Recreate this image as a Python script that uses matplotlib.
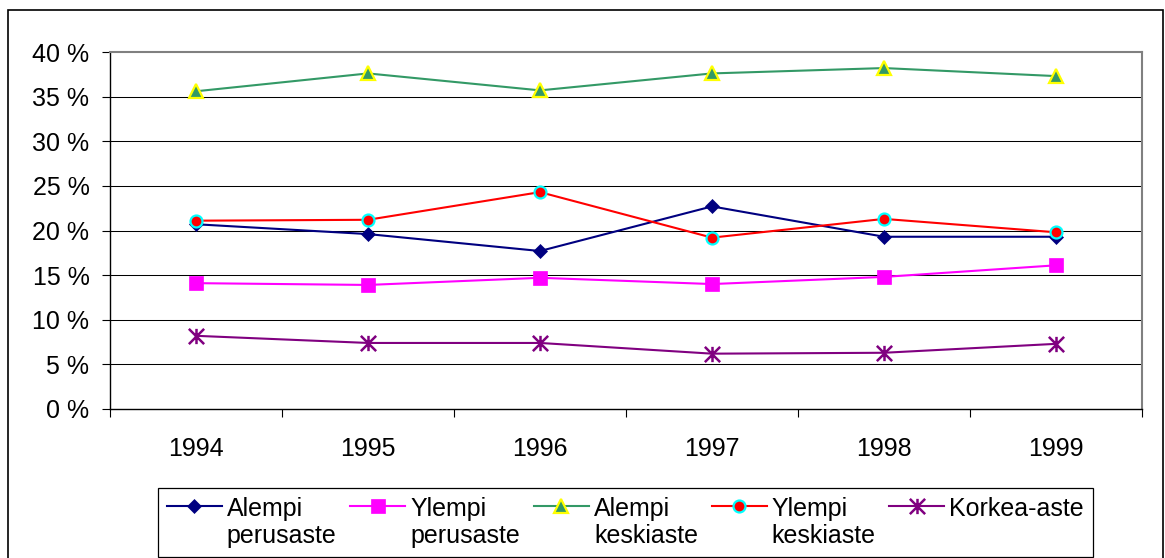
import matplotlib
matplotlib.use("Agg")
import matplotlib.pyplot as plt
from matplotlib.path import Path
from matplotlib.patches import Rectangle

# Share of each education level, percent
years = ["1994", "1995", "1996", "1997", "1998", "1999"]
alempi_perusaste = [20.7, 19.6, 17.7, 22.7, 19.3, 19.3]
ylempi_perusaste = [14.1, 13.9, 14.7, 14.0, 14.8, 16.1]
alempi_keskiaste = [35.6, 37.6, 35.7, 37.6, 38.2, 37.3]
ylempi_keskiaste = [21.1, 21.2, 24.3, 19.2, 21.3, 19.8]
korkea_aste = [8.2, 7.4, 7.4, 6.2, 6.3, 7.3]

series_labels = ["Alempi\nperusaste", "Ylempi\nperusaste", "Alempi\nkeskiaste",
                 "Ylempi\nkeskiaste", "Korkea-aste"]
y_ticks = [0, 5, 10, 15, 20, 25, 30, 35, 40]

plt.rcParams["font.family"] = ["Liberation Sans", "DejaVu Sans"]
FS = 18

W, H = 1165, 558
fig = plt.figure(figsize=(W / 100, H / 100), dpi=100)
fig.patch.set_facecolor("white")

ax = fig.add_axes([110 / W, 1 - 409 / H, (1142 - 110) / W, (409 - 52) / H])

# Asterisk-like star: an X with a vertical stroke
star = Path([(-1, -1), (1, 1), (-1, 1), (1, -1), (0, -1), (0, 1)],
            [Path.MOVETO, Path.LINETO] * 3)

x = list(range(len(years)))
lw = 1.5
h1, = ax.plot(x, alempi_perusaste, color="#000080", lw=lw, marker="D",
              ms=7.6, mfc="#000080", mec="#000080", mew=0.5, zorder=3)
h2, = ax.plot(x, ylempi_perusaste, color="#FF00FF", lw=lw, marker="s",
              ms=10.2, mfc="#FF00FF", mec="#FF00FF", mew=0.5, zorder=3)
h3, = ax.plot(x, alempi_keskiaste, color="#339966", lw=lw, marker="^",
              ms=9.5, mfc="#339966", mec="#FFFF00", mew=1.6, zorder=3)
h4, = ax.plot(x, ylempi_keskiaste, color="#FF0000", lw=lw, marker="o",
              ms=8.6, mfc="#FF0000", mec="#00FFFF", mew=1.6, zorder=3)
h5, = ax.plot(x, korkea_aste, color="#800080", lw=lw, marker=star,
              ms=11, mfc="none", mec="#800080", mew=1.8, zorder=3)

ax.set_ylim(0, 40)
ax.set_xlim(-0.5, len(years) - 0.5)

ax.set_yticks(y_ticks)
ax.set_yticklabels([f"{v} %" for v in y_ticks], fontsize=FS)
ax.tick_params(axis="y", direction="out", length=5.8, width=0.8,
               color="black", pad=9)

# Category boundaries carry the tick marks, centres carry the labels
ax.set_xticks([i - 0.5 for i in range(len(years) + 1)])
ax.set_xticklabels([])
ax.set_xticks(x, minor=True)
ax.set_xticklabels(years, minor=True, fontsize=FS)
ax.tick_params(axis="x", which="major", direction="out", length=5.8,
               width=0.8, color="black")
ax.tick_params(axis="x", which="minor", length=0, pad=20)

for v in y_ticks[1:-1]:
    ax.axhline(v, color="black", lw=0.75, zorder=1)

ax.spines["left"].set_color("black")
ax.spines["bottom"].set_color("black")
ax.spines["left"].set_linewidth(1.0)
ax.spines["bottom"].set_linewidth(1.0)
ax.spines["top"].set_color("#808080")
ax.spines["right"].set_color("#808080")
ax.spines["top"].set_linewidth(1.5)
ax.spines["right"].set_linewidth(1.5)

leg = fig.legend([h1, h2, h3, h4, h5], series_labels, ncol=5, loc="center",
                 bbox_to_anchor=((155 + 1096) / 2 / W, 1 - (489 + 556) / 2 / H),
                 fontsize=FS, frameon=True, fancybox=False, shadow=False,
                 edgecolor="black", facecolor="white", framealpha=1,
                 handlelength=2.2, handletextpad=0.2, columnspacing=0.55,
                 borderpad=0.35, borderaxespad=0)
leg.get_frame().set_linewidth(0.9)
for t in leg.get_texts():
    t.set_linespacing(1.15)

# Align handles and single-line labels with the first text line
box = leg._legend_handle_box
box.align = "top"
for col in box.get_children():
    col.align = "top"
    for item in col.get_children():
        item.align = "top"

# Outer chart border
fig.patches.append(Rectangle((8 / W, -0.05), (1163 - 8) / W, 1.05 - 10.5 / H,
                             transform=fig.transFigure, fill=False,
                             edgecolor="black", lw=1.2))

fig.savefig("out.png", dpi=100)
